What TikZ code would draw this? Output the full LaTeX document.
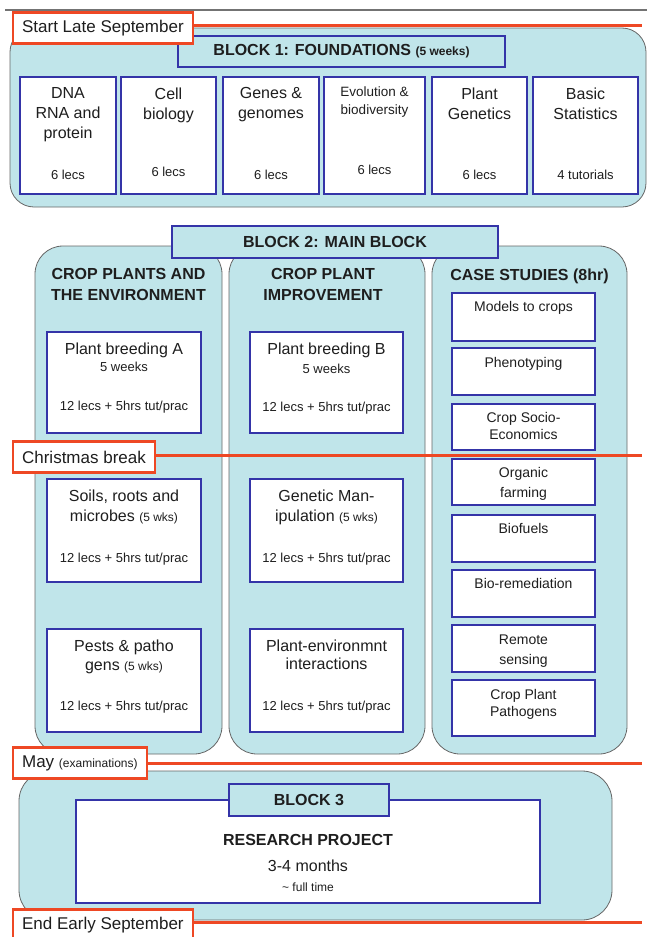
\documentclass[tikz,border=0pt]{standalone}
\usepackage{fontspec}
\setmainfont{Liberation Sans}
\usetikzlibrary{positioning}
\definecolor{paleBlue}{RGB}{192,229,234}
\definecolor{navyEdge}{RGB}{52,52,168}
\definecolor{dateRed}{RGB}{238,72,36}
\definecolor{inkGray}{RGB}{30,30,30}
\newcommand{\smallNote}[1]{{\fontsize{12}{14}\selectfont #1}}

\tikzset{
  blockBg/.style={draw=black!60, fill=paleBlue, line width=0.8pt, rounded corners=#1},
  blockBg/.default=24pt,
  titleBox/.style={draw=navyEdge, fill=paleBlue, line width=2.8pt, text=inkGray,
    font=\bfseries\fontsize{16}{19}\selectfont},
  unitBox/.style={draw=navyEdge, fill=white, line width=2.8pt},
  headText/.style={inner sep=0pt, align=center, text=inkGray, font=\fontsize{16}{20}\selectfont},
  footText/.style={inner sep=0pt, text=inkGray, font=\fontsize{13}{15}\selectfont},
  caseText/.style={inner sep=0pt, align=center, text=inkGray, font=\fontsize{14}{18}\selectfont},
  colHead/.style={inner sep=0pt, align=center, text=inkGray, font=\bfseries\fontsize{16}{21}\selectfont},
  dateBox/.style={draw=dateRed, fill=white, line width=2.2pt, anchor=west, inner xsep=9pt,
    minimum height=31pt, text=inkGray, font=\fontsize{17}{20}\selectfont},
  dateLine/.style={draw=dateRed, line width=3pt},
}

\begin{document}
\begin{tikzpicture}[x=1pt, y=-1pt]
\useasboundingbox (0,0) rectangle (647,937);
\draw[black!55, line width=1.2pt] (5,10) -- (647,10);

% block 1
\node[blockBg, minimum width=636pt, minimum height=179pt] (blockOne) at (328,117.5) {};
\node[titleBox, minimum width=327pt, minimum height=31pt] (blockOneTitle) at (341.5,51.5)
  {BLOCK 1: FOUNDATIONS \smallNote{(5 weeks)}};

\node[unitBox, minimum width=96pt, minimum height=117pt] (dna) at (68,135.5) {};
\node[headText, below=12pt of dna.north] (dnaHead) {DNA\\RNA and\\protein};
\node[footText, above=16pt of dna.south] (dnaFoot) {6 lecs};

\node[unitBox, minimum width=95pt, minimum height=117pt] (cell) at (168.5,135.5) {};
\node[headText, below=12pt of cell.north] (cellHead) {Cell\\biology};
\node[footText, above=19pt of cell.south] (cellFoot) {6 lecs};

\node[unitBox, minimum width=96pt, minimum height=117pt] (genes) at (271,135.5) {};
\node[headText, below=12pt of genes.north] (genesHead) {Genes \&\\genomes};
\node[footText, above=16pt of genes.south] (genesFoot) {6 lecs};

\node[unitBox, minimum width=101pt, minimum height=117pt] (evol) at (374.5,135.5) {};
\node[headText, font=\fontsize{13.5}{18}\selectfont, below=11pt of evol.north] (evolHead)
  {Evolution \&\\biodiversity};
\node[footText, above=21pt of evol.south] (evolFoot) {6 lecs};

\node[unitBox, minimum width=95pt, minimum height=117pt] (plantGen) at (479.5,135.5) {};
\node[headText, below=12pt of plantGen.north] (plantGenHead) {Plant\\Genetics};
\node[footText, above=16pt of plantGen.south] (plantGenFoot) {6 lecs};

\node[unitBox, minimum width=105pt, minimum height=117pt] (stats) at (585.5,135.5) {};
\node[headText, below=12pt of stats.north] (statsHead) {Basic\\Statistics};
\node[footText, above=16pt of stats.south] (statsFoot) {4 tutorials};

% block 2
\node[blockBg=28pt, minimum width=187pt, minimum height=508pt] (envCol) at (128.5,500) {};
\node[blockBg=28pt, minimum width=196pt, minimum height=508pt] (impCol) at (327,500) {};
\node[blockBg=28pt, minimum width=195pt, minimum height=508pt] (caseCol) at (529.5,500) {};
\node[titleBox, minimum width=326pt, minimum height=32pt] (blockTwoTitle) at (335,242)
  {BLOCK 2: MAIN BLOCK};

\node[colHead, below=23pt of envCol.north] (envHead) {CROP PLANTS AND\\THE ENVIRONMENT};
\node[colHead, below=23pt of impCol.north, xshift=-4pt] (impHead) {CROP PLANT\\IMPROVEMENT};
\node[colHead, below=23pt of caseCol.north] (caseHead) {CASE STUDIES (8hr)};

\node[unitBox, minimum width=154pt, minimum height=101pt] (breedA) at (124,382.5) {};
\node[headText, below=12pt of breedA.north] (breedAHead) {Plant breeding A};
\node[footText, below=4pt of breedAHead] (breedAWeeks) {5 weeks};
\node[footText, above=21pt of breedA.south] (breedAFoot) {12 lecs + 5hrs tut/prac};

\node[unitBox, minimum width=153pt, minimum height=101pt] (breedB) at (326.5,382.5) {};
\node[headText, below=12pt of breedB.north] (breedBHead) {Plant breeding B};
\node[footText, below=6pt of breedBHead] (breedBWeeks) {5 weeks};
\node[footText, above=20pt of breedB.south] (breedBFoot) {12 lecs + 5hrs tut/prac};

\node[unitBox, minimum width=154pt, minimum height=103pt] (soils) at (124,530.5) {};
\node[headText, below=12pt of soils.north] (soilsHead) {Soils, roots and\\microbes \smallNote{(5 wks)}};
\node[footText, above=18pt of soils.south] (soilsFoot) {12 lecs + 5hrs tut/prac};

\node[unitBox, minimum width=153pt, minimum height=103pt] (genMan) at (326.5,530.5) {};
\node[headText, below=12pt of genMan.north] (genManHead) {Genetic Man-\\ipulation \smallNote{(5 wks)}};
\node[footText, above=18pt of genMan.south] (genManFoot) {12 lecs + 5hrs tut/prac};

\node[unitBox, minimum width=154pt, minimum height=103pt] (pests) at (124,680.5) {};
\node[headText, font=\fontsize{16}{19}\selectfont, below=12pt of pests.north] (pestsHead)
  {Pests \& patho\\gens \smallNote{(5 wks)}};
\node[footText, above=20pt of pests.south] (pestsFoot) {12 lecs + 5hrs tut/prac};

\node[unitBox, minimum width=153pt, minimum height=103pt] (plantEnv) at (326.5,680.5) {};
\node[headText, font=\fontsize{16}{18}\selectfont, below=12pt of plantEnv.north] (plantEnvHead)
  {Plant-environmnt\\interactions};
\node[footText, above=20pt of plantEnv.south] (plantEnvFoot) {12 lecs + 5hrs tut/prac};

% case studies
\node[unitBox, minimum width=143pt, minimum height=48pt] (models) at (523.5,317) {};
\node[caseText, below=10pt of models.north] (modelsText) {Models to crops};
\node[unitBox, minimum width=143pt, minimum height=47pt] (pheno) at (523.5,371.5) {};
\node[caseText, below=11pt of pheno.north] (phenoText) {Phenotyping};
\node[unitBox, minimum width=143pt, minimum height=46pt] (socio) at (523.5,427) {};
\node[caseText, font=\fontsize{14}{17}\selectfont, below=10pt of socio.north] (socioText)
  {Crop Socio-\\Economics};
\node[unitBox, minimum width=143pt, minimum height=46pt] (organic) at (523.5,482) {};
\node[caseText, font=\fontsize{14}{20}\selectfont, below=10pt of organic.north] (organicText)
  {Organic\\farming};
\node[unitBox, minimum width=143pt, minimum height=47pt] (biofuels) at (523.5,538.5) {};
\node[caseText, below=10pt of biofuels.north] (biofuelsText) {Biofuels};
\node[unitBox, minimum width=143pt, minimum height=47pt] (bioRem) at (523.5,593.5) {};
\node[caseText, below=10pt of bioRem.north] (bioRemText) {Bio-remediation};
\node[unitBox, minimum width=143pt, minimum height=47pt] (remote) at (523.5,648.5) {};
\node[caseText, font=\fontsize{14}{20}\selectfont, below=11pt of remote.north] (remoteText)
  {Remote\\sensing};
\node[unitBox, minimum width=143pt, minimum height=56pt] (cropPath) at (523.5,708) {};
\node[caseText, font=\fontsize{14}{17}\selectfont, below=11pt of cropPath.north] (cropPathText)
  {Crop Plant\\Pathogens};

% block 3
\node[blockBg=30pt, minimum width=593pt, minimum height=149pt] (blockThree) at (315.5,845.5) {};
\node[unitBox, minimum width=464pt, minimum height=103pt] (research) at (308,851.5) {};
\node[titleBox, minimum width=160pt, minimum height=32pt] (blockThreeTitle) at (309,800) {BLOCK 3};
\node[colHead, below=36pt of research.north] (resHead) {RESEARCH PROJECT};
\node[headText, below=13pt of resHead] (resTime) {3-4 months};
\node[footText, font=\fontsize{12}{14}\selectfont, below=11pt of resTime] (resNote)
  {\textasciitilde{} full time};

% dates
\node[dateBox] (startDate) at (12,28) {Start Late September};
\node[dateBox] (xmasDate) at (12,457) {Christmas break};
\node[dateBox] (mayDate) at (12,763) {May \smallNote{(examinations)}};
\node[dateBox] (endDate) at (12,925) {End Early September};
\coordinate (startEnd) at (642,25);
\coordinate (xmasEnd) at (642,455);
\coordinate (mayEnd) at (642,763);
\coordinate (endEnd) at (642,922);
\draw[dateLine] (startEnd -| startDate.east) -- (startEnd);
\draw[dateLine] (xmasEnd -| xmasDate.east) -- (xmasEnd);
\draw[dateLine] (mayEnd -| mayDate.east) -- (mayEnd);
\draw[dateLine] (endEnd -| endDate.east) -- (endEnd);
\end{tikzpicture}
\end{document}
